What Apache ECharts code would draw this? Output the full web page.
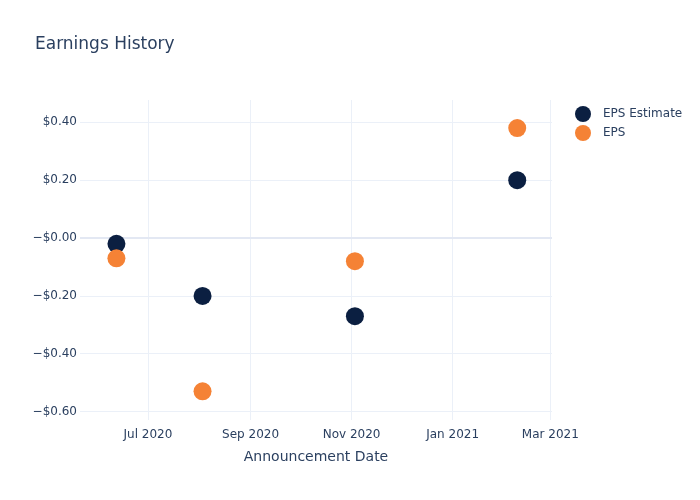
<!DOCTYPE html>
<html><head><meta charset="utf-8">
<script src="https://cdn.jsdelivr.net/npm/echarts@6/dist/echarts.min.js"></script>
<style>html,body{margin:0;padding:0;background:#fff}#c{width:700px;height:500px}</style>
</head><body><div id="c"></div>
<script>
var dates = ['2020-06-12', '2020-08-03', '2020-11-03', '2021-02-09'];
var epsEstimate = [-0.02, -0.20, -0.27, 0.20];
var eps = [-0.07, -0.53, -0.08, 0.38];
var xTickDates = ['2020-07-01', '2020-09-01', '2020-11-01', '2021-01-01', '2021-03-01'];
var yTicks = [-0.6, -0.4, -0.2, 0, 0.2, 0.4];
var monthNames = ['Jan','Feb','Mar','Apr','May','Jun','Jul','Aug','Sep','Oct','Nov','Dec'];

function ts(s){ var p = s.split('-'); return new Date(+p[0], +p[1]-1, +p[2]).getTime(); }
var font = 'DejaVu Sans';
var txt = '#2a3f5f';
var chart = echarts.init(document.getElementById('c'));
chart.setOption({
  animation: false,
  backgroundColor: '#fff',
  textStyle: {fontFamily: font},
  title: {text: 'Earnings History', left: 30, top: 31, textStyle: {fontFamily: font, fontSize: 17, fontWeight: 'normal', color: txt}},
  legend: {orient: 'vertical', left: 570, top: 101, icon: 'circle', itemWidth: 16, itemHeight: 16, itemGap: 3,
    textStyle: {fontFamily: font, fontSize: 12, color: txt, padding: [0, 0, 0, 7]}, data: ['EPS Estimate', 'EPS']},
  grid: {left: 80, right: 148, top: 100, bottom: 80},
  xAxis: {
    type: 'value', min: ts('2020-05-21'), max: ts('2021-03-02'),
    name: 'Announcement Date', nameLocation: 'middle', nameGap: 30,
    nameTextStyle: {fontFamily: font, fontSize: 14, color: txt},
    axisLine: {show: false}, axisTick: {show: false, customValues: xTickDates.map(ts)},
    axisLabel: {customValues: xTickDates.map(ts), fontFamily: font, fontSize: 12, color: txt, margin: 9,
      formatter: function(v){ var d = new Date(v); return monthNames[d.getMonth()] + ' ' + d.getFullYear(); }},
    splitLine: {show: true, lineStyle: {color: '#ebf0f8', width: 1}}
  },
  yAxis: {
    type: 'value', min: -0.629, max: 0.477,
    axisLine: {show: false}, axisTick: {show: false, customValues: yTicks},
    axisLabel: {customValues: yTicks, fontFamily: font, fontSize: 12, color: txt, margin: 3,
      formatter: function(v){ var s = Math.abs(v).toFixed(2); return (v <= 0 ? '\u2212$' : '$') + s; }},
    splitLine: {show: true, lineStyle: {color: '#ebf0f8', width: 1}}
  },
  series: [
    {name: 'EPS Estimate', type: 'scatter', symbolSize: 18, itemStyle: {color: '#0b1f41', opacity: 1},
      data: dates.map(function(d, i){ return [ts(d), epsEstimate[i]]; }),
      markLine: {silent: true, symbol: 'none', label: {show: false}, lineStyle: {color: '#e3e8f3', width: 2, type: 'solid'}, data: [{yAxis: 0}], z: 0}
    },
    {name: 'EPS', type: 'scatter', symbolSize: 18, itemStyle: {color: '#f58235', opacity: 1},
      data: dates.map(function(d, i){ return [ts(d), eps[i]]; })}
  ]
});
</script></body></html>
